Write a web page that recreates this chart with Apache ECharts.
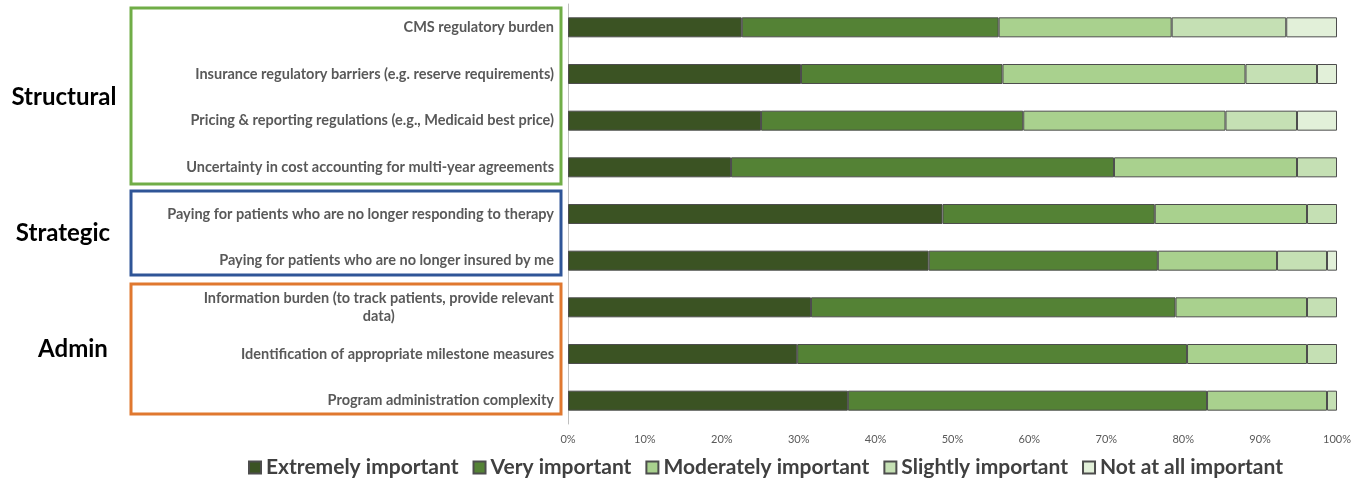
<!DOCTYPE html>
<html>
<head>
<meta charset="utf-8">
<script src="https://cdn.jsdelivr.net/npm/echarts@6/dist/echarts.min.js"></script>
<style>
  html, body { margin: 0; padding: 0; background: #fff; }
  #chart { width: 1362px; height: 478px; }
</style>
</head>
<body>
<div id="chart"></div>
<script>
// Barriers, top to bottom
const categories = [
  'CMS regulatory burden',
  'Insurance regulatory barriers (e.g. reserve requirements)',
  'Pricing & reporting regulations (e.g., Medicaid best price)',
  'Uncertainty in cost accounting for multi-year agreements',
  'Paying for patients who are no longer responding to therapy',
  'Paying for patients who are no longer insured by me',
  'Information burden (to track patients, provide relevant\ndata)',
  'Identification of appropriate milestone measures',
  'Program administration complexity'
];

// Share of respondents (%) per importance level, same order as categories
const extremelyImportant  = [22.6, 30.3, 25.1, 21.2, 48.7, 46.9, 31.6, 29.8, 36.4];
const veryImportant       = [33.4, 26.2, 34.1, 49.8, 27.6, 29.8, 47.4, 50.7, 46.7];
const moderatelyImportant = [22.5, 31.6, 26.3, 23.8, 19.8, 15.5, 17.1, 15.6, 15.6];
const slightlyImportant   = [14.9,  9.3,  9.3,  5.2,  3.9,  6.5,  3.9,  3.9,  1.3];
const notAtAllImportant   = [ 6.6,  2.6,  5.2,  0.0,  0.0,  1.3,  0.0,  0.0,  0.0];

const levelNames = ['Extremely important', 'Very important', 'Moderately important', 'Slightly important', 'Not at all important'];
const levelValues = [extremelyImportant, veryImportant, moderatelyImportant, slightlyImportant, notAtAllImportant];
const levelColors = ['#3B5323', '#548235', '#A9D18E', '#C5E0B4', '#E2F0D9'];

const xTicks = [0, 10, 20, 30, 40, 50, 60, 70, 80, 90, 100];

// Category groups with the rows they span
const groups = [
  { name: 'Structural', color: '#70AD47', box: [131, 8, 430, 176], labelX: 64, labelY: 97 },
  { name: 'Strategic',  color: '#2F5597', box: [131, 191, 430, 84], labelX: 63, labelY: 233 },
  { name: 'Admin',      color: '#E0782F', box: [131, 284, 430, 130], labelX: 73, labelY: 349 }
];

const FONT = 'Lato, "Open Sans", sans-serif';

const chart = echarts.init(document.getElementById('chart'), null, { renderer: 'canvas' });

const series = levelNames.map((name, i) => ({
  name: name,
  type: 'bar',
  stack: 'total',
  barWidth: 20,
  itemStyle: { color: levelColors[i], borderColor: '#4D4D4D', borderWidth: 1 },
  emphasis: { disabled: true },
  data: levelValues[i].map(v => (v === 0 ? null : v))
}));

const graphic = [];
groups.forEach(g => {
  graphic.push({
    type: 'rect',
    shape: { x: g.box[0], y: g.box[1], width: g.box[2], height: g.box[3] },
    style: { fill: 'none', stroke: g.color, lineWidth: 3 },
    z: 0
  });
  graphic.push({
    type: 'text',
    x: g.labelX,
    y: g.labelY,
    style: {
      text: g.name,
      font: 'bold 24px ' + FONT,
      fill: '#000',
      textAlign: 'center',
      textVerticalAlign: 'middle'
    },
    z: 5
  });
});

chart.setOption({
  animation: false,
  backgroundColor: '#fff',
  grid: { left: 568, right: 25, top: 4, height: 420, containLabel: false },
  legend: {
    data: levelNames,
    left: 243,
    top: 452,
    itemWidth: 12,
    itemHeight: 12,
    itemGap: 14,
    icon: 'rect',
    selectedMode: false,
    textStyle: { fontFamily: FONT, fontSize: 21, fontWeight: 'bold', color: '#404040' }
  },
  xAxis: {
    type: 'value',
    min: xTicks[0],
    max: xTicks[xTicks.length - 1],
    interval: xTicks[1] - xTicks[0],
    axisLine: { show: false },
    axisTick: { show: false },
    splitLine: { show: false },
    axisLabel: { formatter: '{value}%', fontFamily: FONT, fontSize: 11, color: '#595959', margin: 10 }
  },
  yAxis: {
    type: 'category',
    inverse: true,
    data: categories,
    axisLine: { show: true, lineStyle: { color: '#BFBFBF', width: 1 } },
    axisTick: { show: false },
    axisLabel: {
      margin: 14,
      fontFamily: FONT,
      fontSize: 14.5,
      fontWeight: 'bold',
      color: '#595959',
      lineHeight: 18,
      formatter: v => v.split('\n').map(line => '{c|' + line + '}').join('\n'),
      rich: { c: { align: 'center', fontFamily: FONT, fontSize: 14.5, fontWeight: 'bold', color: '#595959', lineHeight: 18 } }
    }
  },
  graphic: graphic,
  series: series
});
</script>
</body>
</html>
